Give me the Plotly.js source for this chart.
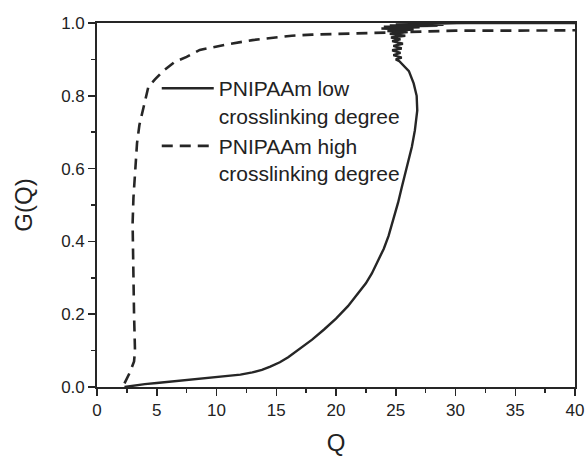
<!DOCTYPE html>
<html>
<head>
<meta charset="utf-8">
<script src="https://cdn.plot.ly/plotly-3.0.1.min.js"></script>
<style>html,body{margin:0;padding:0;background:#fff;}#chart{width:586px;height:456px;}</style>
</head>
<body>
<div id="chart"></div>
<script>
// PNIPAAm low crosslinking degree (solid)
const lowQ = [2.3, 3, 4, 5, 6, 7, 8, 9, 10, 11, 12, 13, 13.8, 14.5, 15.3, 16, 17, 18, 19, 20, 21, 22, 22.5, 23, 23.5, 24, 24.4, 24.9, 25.2, 25.5, 25.8, 26.1, 26.35, 26.6, 26.8, 26.75, 26.5, 26.1, 25.6, 25.3,
  25.0, 25.5, 24.8, 25.4, 24.7, 25.5, 24.8, 25.6, 24.7, 25.4, 24.6, 25.8, 24.5, 26.0, 24.3, 26.5,
  23.8, 27.0, 24.0, 28.5, 24.5, 29.0, 25.0, 30.0, 26.0, 30.1, 28.0, 31.0, 40.0];
const lowG = [0.0, 0.004, 0.008, 0.011, 0.014, 0.017, 0.02, 0.023, 0.027, 0.03, 0.034, 0.04, 0.047, 0.056, 0.068, 0.082, 0.105, 0.13, 0.158, 0.188, 0.222, 0.262, 0.285, 0.312, 0.345, 0.38, 0.415, 0.47, 0.507, 0.548, 0.588, 0.625, 0.66, 0.705, 0.76, 0.8, 0.834, 0.868, 0.886, 0.895,
  0.90, 0.905, 0.912, 0.918, 0.925, 0.93, 0.937, 0.943, 0.95, 0.955, 0.96, 0.965, 0.97, 0.975, 0.978, 0.982,
  0.985, 0.988, 0.99, 0.992, 0.993, 0.995, 0.996, 0.997, 0.998, 0.999, 0.999, 1.0, 1.0];
// PNIPAAm high crosslinking degree (dashed)
const highQ = [2.3, 2.75, 3.1, 3.18, 3.1, 3.0, 2.98, 3.05, 3.18, 3.35, 3.55, 3.82, 4.3, 4.85, 5.5, 6.5, 7.5, 8.6, 9.7, 11.2, 13, 15, 16.3, 18, 21, 24.5, 27, 30, 35, 40];
const highG = [0.01, 0.04, 0.07, 0.1, 0.2, 0.35, 0.45, 0.52, 0.577, 0.67, 0.72, 0.76, 0.825, 0.845, 0.867, 0.893, 0.907, 0.926, 0.934, 0.943, 0.953, 0.96, 0.965, 0.968, 0.971, 0.975, 0.977, 0.979, 0.979, 0.98];

const seriesNames = ['PNIPAAm low<br>crosslinking degree', 'PNIPAAm high<br>crosslinking degree'];
const xTicks = [0, 5, 10, 15, 20, 25, 30, 35, 40];
const yTicks = [0.0, 0.2, 0.4, 0.6, 0.8, 1.0];
const yTickText = ['0.0', '0.2', '0.4', '0.6', '0.8', '1.0'];

const ink = '#262626';
const fontFam = 'Liberation Sans, Arial, sans-serif';

const traces = [
  {x: lowQ, y: lowG, name: seriesNames[0], mode: 'lines', line: {color: ink, width: 2.4}},
  {x: highQ, y: highG, name: seriesNames[1], mode: 'lines', line: {color: ink, width: 2.6, dash: '11px,7px'}}
];

const layout = {
  width: 586, height: 456,
  margin: {l: 97, r: 11, t: 23, b: 69},
  paper_bgcolor: '#fff', plot_bgcolor: '#fff',
  font: {family: fontFam, color: '#222', size: 17},
  showlegend: true,
  legend: {x: 0.125, y: 0.876, xanchor: 'left', yanchor: 'top', bgcolor: 'rgba(0,0,0,0)',
    font: {family: fontFam, size: 21, color: '#222'}, valign: 'top', itemwidth: 52},
  xaxis: {
    range: [0, 40], tickvals: xTicks, ticks: 'outside', ticklen: 7, tickwidth: 1.5, tickcolor: ink,
    showline: true, linecolor: ink, linewidth: 1.8, mirror: true, showgrid: false, zeroline: false,
    tickfont: {size: 17, family: fontFam, color: '#222'},
    minor: {dtick: 2.5, ticks: 'outside', ticklen: 4, tickwidth: 1.5, tickcolor: ink, showgrid: false},
    title: {text: 'Q', font: {size: 24, family: fontFam, color: '#222'}, standoff: 26}
  },
  yaxis: {
    range: [0, 1.0], tickvals: yTicks, ticktext: yTickText, ticks: 'outside', ticklen: 7, tickwidth: 1.5, tickcolor: ink,
    showline: true, linecolor: ink, linewidth: 1.8, mirror: true, showgrid: false, zeroline: false,
    tickfont: {size: 17, family: fontFam, color: '#222'},
    minor: {dtick: 0.1, ticks: 'outside', ticklen: 4, tickwidth: 1.5, tickcolor: ink, showgrid: false},
    title: {text: 'G(Q)', font: {size: 24, family: fontFam, color: '#222'}, standoff: 22}
  }
};

Plotly.newPlot('chart', traces, layout, {staticPlot: true, displayModeBar: false});
</script>
</body>
</html>
